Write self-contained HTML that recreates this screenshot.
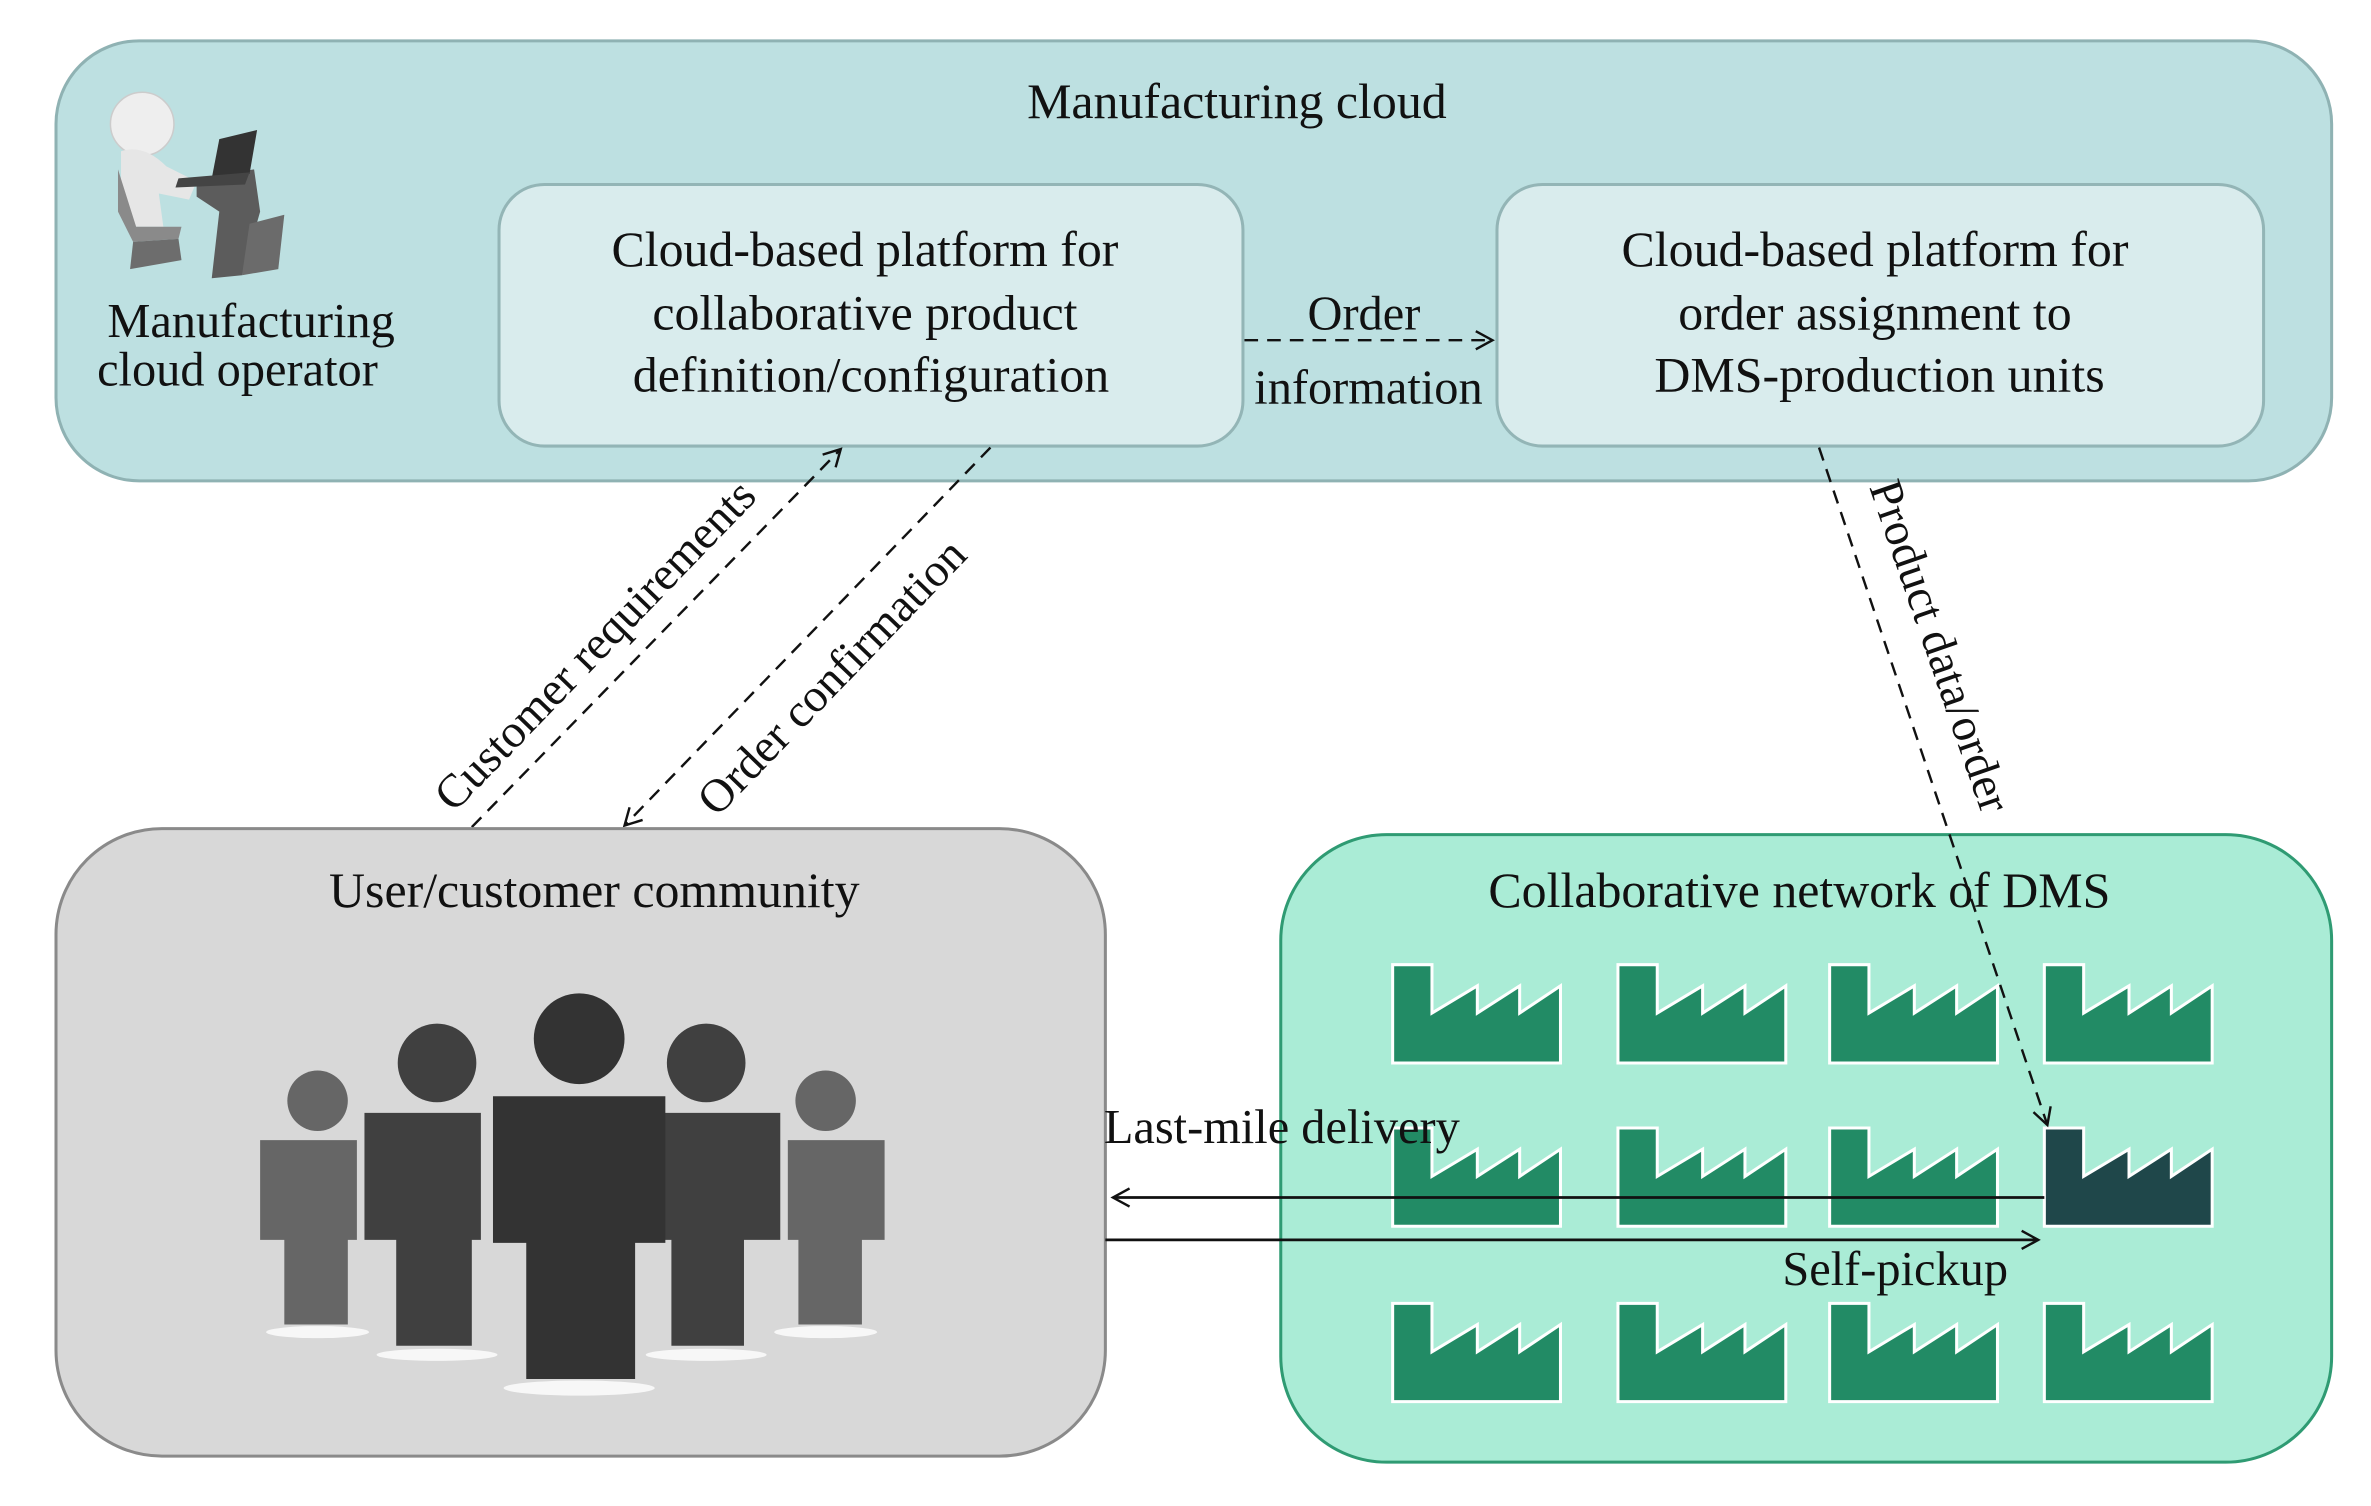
<!DOCTYPE html>
<html><head><meta charset="utf-8"><style>
html,body{margin:0;padding:0;background:#fff;}
svg{display:block;}
text{font-family:"Liberation Serif",serif;fill:#111;}
</style></head><body>
<svg width="2371" height="1506" viewBox="0 0 1568 996" xmlns="http://www.w3.org/2000/svg">
<defs>
<marker id="oa" markerWidth="14" markerHeight="14" refX="12" refY="7" orient="auto" markerUnits="userSpaceOnUse">
<path d="M1,1 L12,7 L1,13" fill="none" stroke="#111" stroke-width="1.6"/></marker>
<g id="fac"><path d="M0,0 H26 V32 L56,14 V32 L84,14 V32 L111,14 V65 H0 Z" stroke="#fff" stroke-width="2"/></g>
</defs>
<rect width="1568" height="996" fill="#fff"/>
<!-- Manufacturing cloud -->
<rect x="37" y="27" width="1505" height="291" rx="55" fill="#bde0e1" stroke="#8fb2b3" stroke-width="2"/>
<text x="818" y="78" font-size="33" text-anchor="middle">Manufacturing cloud</text>
<rect x="330" y="122" width="492" height="173" rx="30" fill="#d9eced" stroke="#93b5b6" stroke-width="2"/>
<text font-size="33" text-anchor="middle"><tspan x="572" y="176">Cloud-based platform for</tspan><tspan x="572" y="218">collaborative product</tspan><tspan x="576" y="259">definition/configuration</tspan></text>
<rect x="990" y="122" width="507" height="173" rx="30" fill="#d9eced" stroke="#93b5b6" stroke-width="2"/>
<text font-size="33" text-anchor="middle"><tspan x="1240" y="176">Cloud-based platform for</tspan><tspan x="1240" y="218">order assignment to</tspan><tspan x="1243" y="259">DMS-production units</tspan></text>
<line x1="823" y1="225" x2="987" y2="225" stroke="#111" stroke-width="1.6" stroke-dasharray="9,6" marker-end="url(#oa)"/>
<text x="902" y="218" font-size="32" text-anchor="middle">Order</text>
<text x="905" y="267" font-size="32" text-anchor="middle">information</text>
<!-- operator -->
<g>
<circle cx="94" cy="82" r="21" fill="#eee" stroke="#ccc"/>
<path d="M80,100 Q95,95 110,110 L130,120 L125,132 L105,128 L108,150 L90,150 L80,130 Z" fill="#e6e6e6"/>
<path d="M78,112 L90,150 L120,150 L118,158 L88,160 L78,140 Z" fill="#8a8a8a"/>
<path d="M88,160 L86,178 L120,172 L118,158 Z" fill="#6d6d6d"/>
<path d="M130,118 L168,112 L172,140 L160,182 L140,184 L145,140 L130,130 Z" fill="#5c5c5c"/>
<path d="M165,148 L188,142 L184,178 L160,182 Z" fill="#6b6b6b"/>
<path d="M145,92 L170,86 L165,115 L140,118 Z" fill="#333"/>
<path d="M118,118 L165,114 L162,122 L116,124 Z" fill="#444"/>
</g>
<text x="166" y="223" font-size="32" text-anchor="middle">Manufacturing</text>
<text x="157" y="255" font-size="32" text-anchor="middle">cloud operator</text>
<!-- connectors -->
<line x1="312" y1="547" x2="556" y2="297" stroke="#111" stroke-width="1.6" stroke-dasharray="9,6" marker-end="url(#oa)"/>
<line x1="655" y1="296" x2="413" y2="546" stroke="#111" stroke-width="1.6" stroke-dasharray="9,6" marker-end="url(#oa)"/>
<text font-size="31" transform="translate(300,538) rotate(-46)">Customer requirements</text>
<text font-size="31" transform="translate(474,541) rotate(-46)">Order confirmation</text>
<!-- user community -->
<rect x="37" y="548" width="694" height="415" rx="70" fill="#d8d8d8" stroke="#8a8a8a" stroke-width="2"/>
<text x="393" y="600" font-size="33" text-anchor="middle">User/customer community</text>
<g>
<ellipse cx="210" cy="881" rx="34" ry="4" fill="#fff" opacity=".8"/>
<ellipse cx="546" cy="881" rx="34" ry="4" fill="#fff" opacity=".8"/>
<ellipse cx="289" cy="896" rx="40" ry="4" fill="#fff" opacity=".8"/>
<ellipse cx="467" cy="896" rx="40" ry="4" fill="#fff" opacity=".8"/>
<ellipse cx="383" cy="918" rx="50" ry="5" fill="#fff" opacity=".8"/>
<circle cx="210" cy="728" r="20" fill="#666"/>
<path d="M172,754 H236 V820 H230 V876 H188 V820 H172 Z" fill="#666"/>
<circle cx="546" cy="728" r="20" fill="#666"/>
<path d="M521,754 H585 V820 H570 V876 H528 V820 H521 Z" fill="#666"/>
<circle cx="289" cy="703" r="26" fill="#404040"/>
<path d="M241,736 H318 V820 H312 V890 H262 V820 H241 Z" fill="#404040"/>
<circle cx="467" cy="703" r="26" fill="#404040"/>
<path d="M438,736 H516 V820 H492 V890 H444 V820 H438 Z" fill="#404040"/>
<circle cx="383" cy="687" r="30" fill="#333"/>
<path d="M326,725 H440 V822 H420 V912 H348 V822 H326 Z" fill="#333"/>
</g>
<!-- DMS -->
<rect x="847" y="552" width="695" height="415" rx="70" fill="#aaecd6" stroke="#2f9b73" stroke-width="2"/>
<text x="1190" y="600" font-size="33" text-anchor="middle">Collaborative network of DMS</text>
<g fill="#228b65">
<use href="#fac" x="921" y="638"/><use href="#fac" x="1070" y="638"/><use href="#fac" x="1210" y="638"/><use href="#fac" x="1352" y="638"/>
<use href="#fac" x="921" y="746"/><use href="#fac" x="1070" y="746"/><use href="#fac" x="1210" y="746"/>
<use href="#fac" x="921" y="862"/><use href="#fac" x="1070" y="862"/><use href="#fac" x="1210" y="862"/><use href="#fac" x="1352" y="862"/>
</g>
<use href="#fac" x="1352" y="746" fill="#1f474a"/>
<line x1="1203" y1="296" x2="1354" y2="744" stroke="#111" stroke-width="1.6" stroke-dasharray="9,6" marker-end="url(#oa)"/>
<text font-size="31" transform="translate(1236,322) rotate(71)">Product data/order</text>
<line x1="1352" y1="792" x2="736" y2="792" stroke="#111" stroke-width="1.8" marker-end="url(#oa)"/>
<line x1="731" y1="820" x2="1348" y2="820" stroke="#111" stroke-width="1.8" marker-end="url(#oa)"/>
<text x="730" y="756" font-size="32">Last-mile delivery</text>
<text x="1328" y="850" font-size="32" text-anchor="end">Self-pickup</text>
</svg>
</body></html>
